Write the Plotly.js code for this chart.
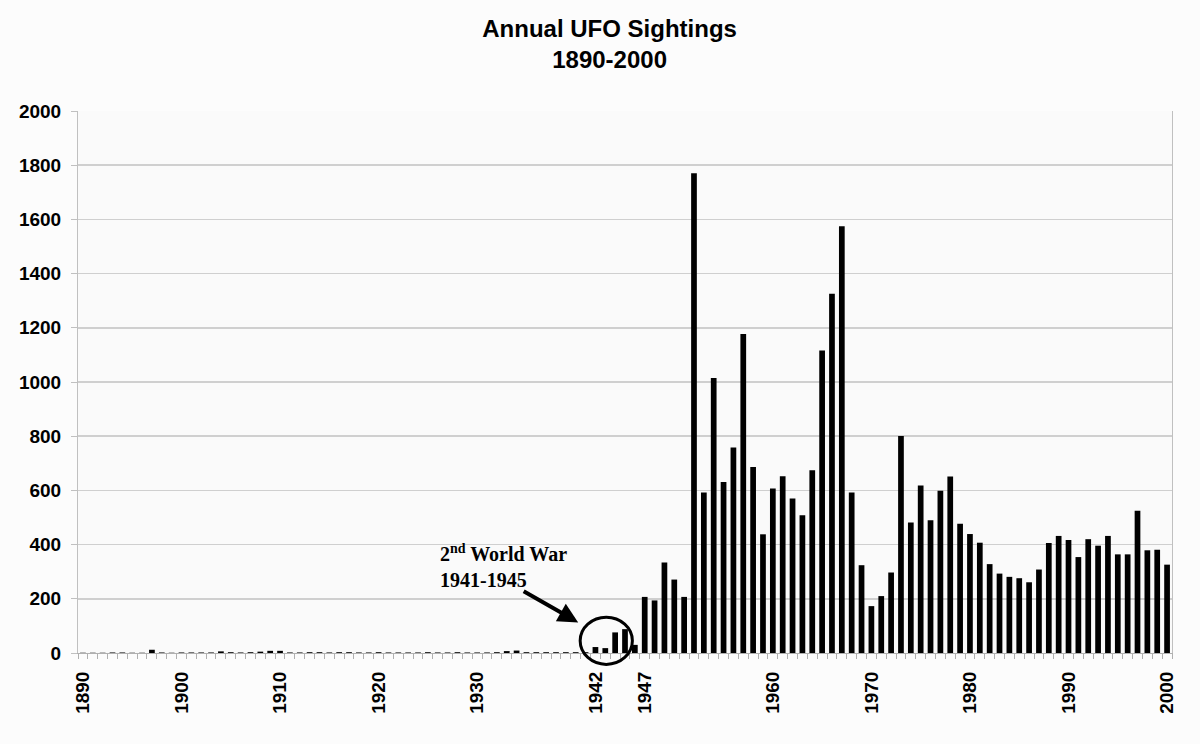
<!DOCTYPE html>
<html>
<head>
<meta charset="utf-8">
<script src="https://cdn.plot.ly/plotly-3.0.1.min.js"></script>
<style>html,body{margin:0;padding:0;background:#fcfcfc;}#chart{width:1200px;height:744px;}</style>
</head>
<body>
<div id="chart"></div>
<script>
const years = [
  1890,1891,1892,1893,1894,1895,1896,1897,1898,1899,
  1900,1901,1902,1903,1904,1905,1906,1907,1908,1909,
  1910,1911,1912,1913,1914,1915,1916,1917,1918,1919,
  1920,1921,1922,1923,1924,1925,1926,1927,1928,1929,
  1930,1931,1932,1933,1934,1935,1936,1937,1938,1939,
  1940,1941,1942,1943,1944,1945,1946,1947,1948,1949,
  1950,1951,1952,1953,1954,1955,1956,1957,1958,1959,
  1960,1961,1962,1963,1964,1965,1966,1967,1968,1969,
  1970,1971,1972,1973,1974,1975,1976,1977,1978,1979,
  1980,1981,1982,1983,1984,1985,1986,1987,1988,1989,
  1990,1991,1992,1993,1994,1995,1996,1997,1998,1999,
  2000
];
const sightings = [
  1,1,1,2,2,1,1,12,2,1,
  2,2,2,2,6,3,2,3,5,8,
  8,2,2,3,3,2,3,3,2,2,
  3,2,2,2,2,3,2,2,3,2,
  2,2,3,7,9,3,3,3,3,3,
  3,3,22,18,76,88,30,207,194,334,
  271,207,1770,592,1015,631,758,1177,686,438,
  607,652,570,508,674,1116,1326,1575,592,324,
  173,210,297,801,482,618,490,599,651,477,
  439,407,328,293,281,276,261,308,406,432,
  417,354,420,396,432,364,364,525,379,381,
  326
];
const xTickYears = [1890,1900,1910,1920,1930,1942,1947,1960,1970,1980,1990,2000];
const yTickValues = [0,200,400,600,800,1000,1200,1400,1600,1800,2000];

const trace = {
  type: 'bar',
  x: years,
  y: sightings,
  width: 0.58,
  marker: {color: '#000000', line: {width: 0}},
  hoverinfo: 'x+y'
};

const layout = {
  width: 1200,
  height: 744,
  margin: {l: 78, r: 28, t: 111, b: 91},
  paper_bgcolor: '#fcfcfc',
  plot_bgcolor: '#fafafa',
  showlegend: false,
  bargap: 0.4,
  title: {
    text: 'Annual UFO Sightings<br>1890-2000',
    font: {family: 'Liberation Sans, Arial, sans-serif', size: 24, color: '#000', weight: 'bold'},
    x: 0.508, xanchor: 'center',
    y: 0.95, yanchor: 'top', yref: 'container'
  },
  xaxis: {
    range: [1889.5, 2000.5],
    tickmode: 'array',
    tickvals: xTickYears,
    ticktext: xTickYears.map(String),
    tickangle: -90,
    ticks: '',
    ticklabelstandoff: 10,
    tickfont: {family: 'Liberation Sans, Arial, sans-serif', size: 19, color: '#000', weight: 'bold'},
    showgrid: false,
    zeroline: false,
    showline: true,
    linecolor: '#b0b0b0',
    linewidth: 1,
    minor: {tickmode: 'linear', tick0: 1889.5, dtick: 1, ticks: 'outside', ticklen: 5, tickcolor: '#b0b0b0', showgrid: false}
  },
  yaxis: {
    range: [0, 2000],
    tickmode: 'array',
    tickvals: yTickValues,
    ticks: 'outside',
    ticklen: 6,
    tickcolor: '#c0c0c0',
    ticklabelstandoff: 6,
    tickfont: {family: 'Liberation Sans, Arial, sans-serif', size: 19, color: '#000', weight: 'bold'},
    showgrid: true,
    gridcolor: '#cfcfcf',
    gridwidth: 1.5,
    zeroline: false,
    showline: true,
    mirror: true,
    linecolor: '#c0c0c0',
    linewidth: 1
  },
  annotations: [
    {
      xref: 'paper', yref: 'paper',
      x: 0.329, y: 0.16,
      xanchor: 'left', yanchor: 'middle', align: 'left',
      text: '2<sup>nd</sup> World War<br>1941-1945',
      showarrow: false,
      font: {family: 'Liberation Serif, Times New Roman, serif', size: 20, color: '#000', weight: 'bold'}
    },
    {
      xref: 'x', yref: 'y',
      x: 1940.25, y: 113,
      axref: 'pixel', ayref: 'pixel',
      ax: -56, ay: -32,
      text: '',
      showarrow: true,
      arrowhead: 2,
      arrowsize: 1,
      arrowwidth: 4,
      arrowcolor: '#000'
    }
  ],
  shapes: [
    {
      type: 'circle',
      xref: 'x', yref: 'paper',
      x0: 1940.45, x1: 1945.75,
      y0: -0.021, y1: 0.066,
      line: {color: '#000', width: 3},
      fillcolor: 'rgba(0,0,0,0)'
    }
  ]
};

Plotly.newPlot('chart', [trace], layout, {displayModeBar: false, staticPlot: true});
</script>
</body>
</html>
